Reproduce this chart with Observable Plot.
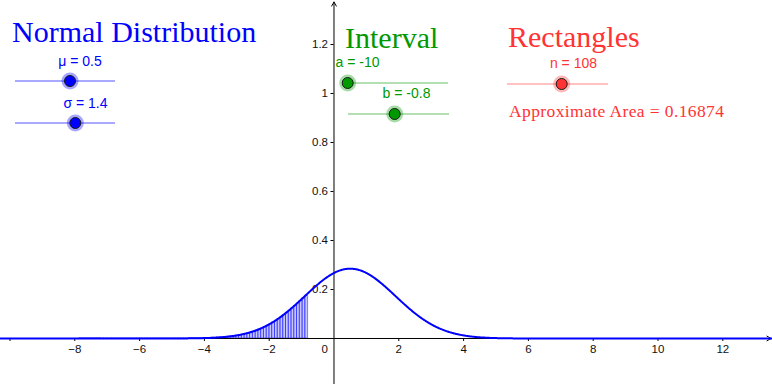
<!DOCTYPE html>
<html><head><meta charset="utf-8">
<script src="https://cdn.jsdelivr.net/npm/d3@7"></script>
<script src="https://cdn.jsdelivr.net/npm/@observablehq/plot@0.6"></script>
<style>
html,body{margin:0;padding:0;background:#fff;}
#wrap{position:relative;width:772px;height:384px;overflow:hidden;background:#fff;}
#wrap > svg{position:absolute;left:0;top:0;}
</style></head><body><div id="wrap"></div>
<script>
// ---- values ----
const sliderNames  = ["μ", "σ", "a", "b", "n"];
const sliderValues = [0.5, 1.4, -10, -0.8, 108];
const headings     = ["Normal Distribution", "Interval", "Rectangles"];
const areaLabel    = "Approximate Area";
const approxArea   = 0.16874;
const xTicks = [-10, -8, -6, -4, -2, 2, 4, 6, 8, 10, 12];
const yTicks = [0.2, 0.4, 0.6, 0.8, 1, 1.2];
const xView  = [-10.293, 13.534];
const yView  = [-0.1878, 1.3796];

const [mu, sigma, a, b, n] = sliderValues;
const W = 772, H = 384;

// normal density of the displayed parameters
const pdf = x => Math.exp(-0.5 * ((x - mu) / sigma) ** 2) / (sigma * Math.sqrt(2 * Math.PI));
const curve = d3.range(xView[0], xView[1] + 0.01, 0.02).map(x => ({x, y: pdf(x)}));
const h = (b - a) / n;
const rects = d3.range(n).map(i => ({x1: a + i * h, x2: a + (i + 1) * h, y: pdf(a + i * h)}));

const x0px = W * (0 - xView[0]) / (xView[1] - xView[0]);
const y0px = H * (yView[1] - 0) / (yView[1] - yView[0]);
const fmt = d => d === -10 ? "" : (d < 0 ? "\u2212" + (-d) : String(d));

const chart = Plot.plot({
  width: W, height: H,
  margin: 0,
  x: {domain: xView, label: null},
  y: {domain: yView, label: null},
  style: {fontFamily: "'Liberation Sans', Arial, sans-serif", fontSize: "11.5px", background: "white", color: "black"},
  marks: [
    Plot.rectY(rects, {x1: "x1", x2: "x2", y: "y", fill: "blue", fillOpacity: 0.22, stroke: "blue", strokeOpacity: 0.45, strokeWidth: 1}),
    Plot.arrow([{x1: xView[0], y1: 0, x2: xView[1], y2: 0}, {x1: 0, y1: yView[0], x2: 0, y2: yView[1]}],
      {x1: "x1", y1: "y1", x2: "x2", y2: "y2", stroke: "black", strokeWidth: 1, headLength: 7, insetEnd: 1.5}),
    Plot.axisX({anchor: "bottom", ticks: xTicks, tickSize: 3, tickPadding: 3, tickFormat: fmt, dy: y0px - H, fill: "#111"}),
    Plot.axisY({anchor: "left", ticks: yTicks, tickSize: 3, tickPadding: 3, tickFormat: d => String(d), dx: x0px, fill: "#111"}),
    Plot.text([0], {x: d => d, y: 0, text: d => String(d), textAnchor: "end", dx: -6, dy: 11, fill: "#111"}),
    Plot.line(curve, {x: "x", y: "y", stroke: "blue", strokeWidth: 2})
  ]
});
const wrap = document.getElementById("wrap");
wrap.appendChild(chart);

// ---- GeoGebra-style controls overlay (layout only) ----
const BLUE = "#0000ff", GREEN = "#009900", RED = "#ff3333";
const sliderLayout = [
  {color: BLUE,  light: "#8c8cff", x1: 15,  x2: 115, y: 81,  knob: 70,    tx: 80,    ty: 66},
  {color: BLUE,  light: "#8c8cff", x1: 15,  x2: 115, y: 123, knob: 75.3,  tx: 85.5,  ty: 108},
  {color: GREEN, light: "#99d699", x1: 347, x2: 448, y: 83,  knob: 347.7, tx: 357.5, ty: 67},
  {color: GREEN, light: "#99d699", x1: 348, x2: 449, y: 114, knob: 394.7, tx: 406.5, ty: 98},
  {color: RED,   light: "#ffadad", x1: 507, x2: 608, y: 84,  knob: 561.7, tx: 573.5, ty: 68}
];
const headingLayout = [
  {x: 12,  y: 42, color: BLUE},
  {x: 345, y: 48, color: GREEN},
  {x: 508, y: 47, color: RED}
];
let s = `<svg xmlns="http://www.w3.org/2000/svg" width="${W}" height="${H}">`;
headings.forEach((t, i) => {
  const L = headingLayout[i];
  s += `<text x="${L.x}" y="${L.y}" fill="${L.color}" font-family="'Liberation Serif', 'Times New Roman', serif" font-size="30">${t}</text>`;
});
sliderNames.forEach((nm, i) => {
  const L = sliderLayout[i];
  s += `<line x1="${L.x1}" x2="${L.x2}" y1="${L.y}" y2="${L.y}" stroke="${L.light}" stroke-width="1.3"/>`;
  s += `<circle cx="${L.knob}" cy="${L.y}" r="8.5" fill="${L.color}" fill-opacity="0.35"/>`;
  s += `<circle cx="${L.knob}" cy="${L.y}" r="5.5" fill="${L.color}" stroke="#1a1a1a" stroke-width="1"/>`;
  s += `<text x="${L.tx}" y="${L.ty}" fill="${L.color}" text-anchor="middle" font-family="'Liberation Sans', Arial, sans-serif" font-size="14">${nm} = ${sliderValues[i]}</text>`;
});
s += `<text x="509" y="117" fill="${RED}" font-family="'Liberation Serif', 'Times New Roman', serif" font-size="17.5" textLength="215" lengthAdjust="spacing">${areaLabel} = ${approxArea}</text>`;
s += `</svg>`;
wrap.insertAdjacentHTML("beforeend", s);
</script></body></html>
